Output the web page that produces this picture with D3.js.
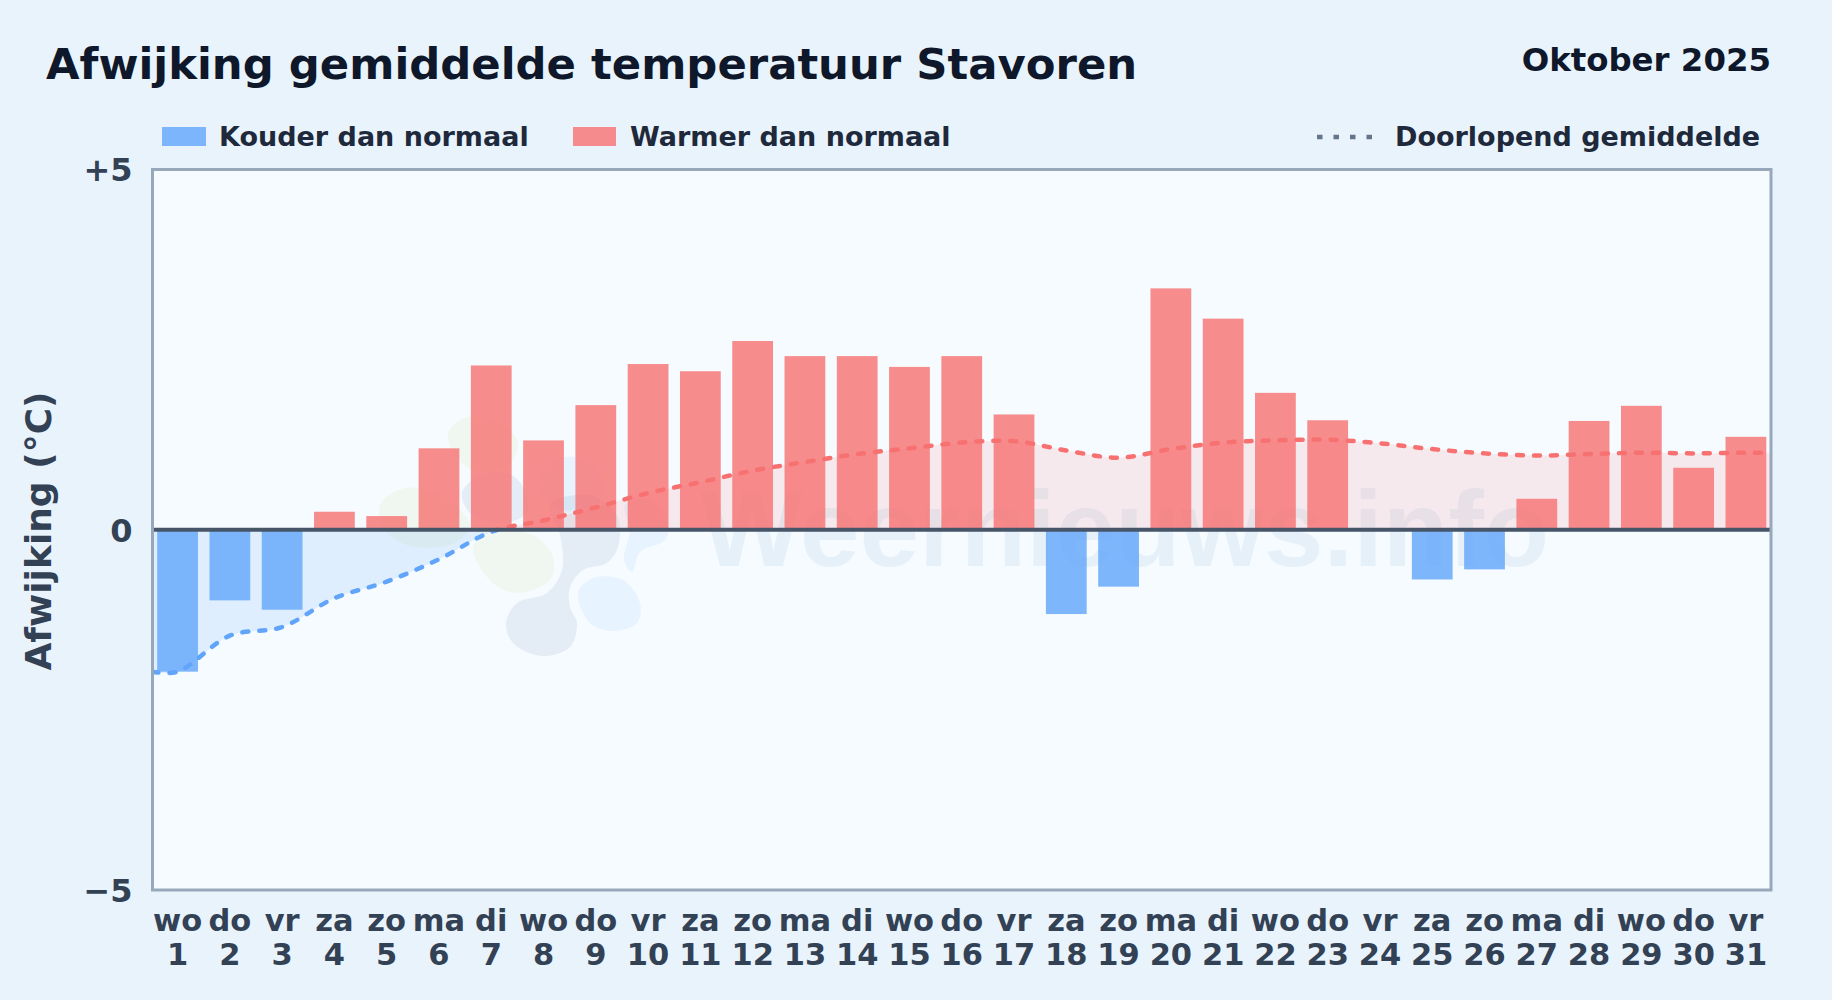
<!DOCTYPE html>
<html>
<head>
<meta charset="utf-8">
<script src="https://cdn.jsdelivr.net/npm/d3@7"></script>
<style>
  html, body { margin: 0; padding: 0; background: #e8f3fc; }
  svg { display: block; }
  text { font-family: "DejaVu Sans", sans-serif; font-weight: 700; }
</style>
</head>
<body>
<svg id="chart" width="1832" height="1000"></svg>
<script>
const weekdays = ['wo','do','vr','za','zo','ma','di','wo','do','vr','za','zo','ma','di','wo','do','vr','za','zo','ma','di','wo','do','vr','za','zo','ma','di','wo','do','vr'];
const days = d3.range(1, 32);
const deviation = [-1.97,-0.98,-1.11,0.25,0.19,1.13,2.28,1.24,1.73,2.30,2.20,2.62,2.41,2.41,2.26,2.41,1.60,-1.17,-0.79,3.35,2.93,1.90,1.52,0,-0.69,-0.55,0.43,1.51,1.72,0.86,1.29];
const runningMean = [-1.97,-1.47,-1.35,-0.95,-0.72,-0.41,-0.03,0.13,0.31,0.51,0.66,0.82,0.94,1.05,1.13,1.21,1.23,1.10,1.00,1.12,1.21,1.24,1.25,1.20,1.12,1.06,1.03,1.05,1.07,1.06,1.07];
const yTicks = [5, 0, -5];
const yTickLabels = ['+5', '0', '\u22125'];

const margin = { top: 169.5, right: 61, bottom: 110, left: 152.5 };
const width = 1832 - margin.left - margin.right;
const height = 1000 - margin.top - margin.bottom;

const BLUE = '#60a5fa', RED = '#f87171';

const svg = d3.select('#chart');
svg.append('rect').attr('width', 1832).attr('height', 1000).attr('fill', '#e8f3fc');

// Title block
svg.append('text').attr('x', 46).attr('y', 79).attr('font-size', 43.35).attr('fill', '#0f172a')
  .text('Afwijking gemiddelde temperatuur Stavoren');
svg.append('text').attr('x', 1771).attr('y', 71).attr('text-anchor', 'end').attr('font-size', 32.4).attr('fill', '#0f172a')
  .text('Oktober 2025');

// Legend
const legend = svg.append('g').attr('font-size', 27).attr('fill', '#1e293b');
legend.append('rect').attr('x', 162).attr('y', 127).attr('width', 44).attr('height', 19).attr('fill', BLUE).attr('opacity', 0.8);
legend.append('text').attr('x', 219).attr('y', 146).text('Kouder dan normaal');
legend.append('rect').attr('x', 573).attr('y', 127).attr('width', 43).attr('height', 19).attr('fill', RED).attr('opacity', 0.8);
legend.append('text').attr('x', 630).attr('y', 146).text('Warmer dan normaal');
legend.append('line').attr('x1', 1317).attr('x2', 1375).attr('y1', 137).attr('y2', 137)
  .attr('stroke', '#64748b').attr('stroke-width', 4.5).attr('stroke-dasharray', '5.5 11');
legend.append('text').attr('x', 1395).attr('y', 146).text('Doorlopend gemiddelde');

const g = svg.append('g').attr('transform', `translate(${margin.left},${margin.top})`);

const x = d3.scaleBand().domain(days).range([0, width]).paddingInner(0.22).paddingOuter(0.09);
const y = d3.scaleLinear().domain([-5, 5]).range([height, 0]);
const cx = d => x(d) + x.bandwidth() / 2;

g.append('rect').attr('width', width).attr('height', height).attr('fill', '#f6fbff');

// Watermark (logo blobs and site name, page coordinates)
const logoBlobs = [
  { fill: '#a3c93a', pts: [[448,433],[467,417],[500,423],[518,443],[507,467],[477,472],[457,457]] },
  { fill: '#a3c93a', pts: [[380,505],[405,488],[440,495],[470,525],[455,543],[410,546],[385,530]] },
  { fill: '#a3c93a', pts: [[473,547],[493,533],[533,535],[553,557],[550,580],[517,593],[493,583]] },
  { fill: '#1e4e8c', pts: [[462,493],[477,477],[507,473],[523,487],[527,513],[500,523],[470,513]] },
  { fill: '#1e4e8c', pts: [[550,505],[590,495],[617,515],[618,547],[607,563],[583,570],[570,587],[570,607],[577,623],[570,647],[542,656],[513,643],[506,623],[517,603],[547,593],[562,570],[560,535]] },
  { fill: '#3b9df0', pts: [[578,593],[593,578],[623,580],[640,603],[637,623],[613,631],[590,623]] },
  { fill: '#3b9df0', pts: [[537,477],[563,457],[590,463],[603,487],[597,505],[565,510],[545,500]] },
  { fill: '#3b9df0', pts: [[625,505],[650,500],[668,525],[665,540],[640,552],[632,572],[624,560],[630,530]] }
];
const wm = g.append('g').attr('transform', `translate(${-margin.left},${-margin.top})`);
const blobLine = d3.line().curve(d3.curveCatmullRomClosed.alpha(0.5));
logoBlobs.forEach(b => wm.append('path').attr('d', blobLine(b.pts)).attr('fill', b.fill).attr('opacity', 0.08));
wm.append('text').attr('x', 701).attr('y', 566).attr('font-size', 107)
  .style('font-family', '"Liberation Sans", sans-serif')
  .attr('fill', '#2a7fc0').attr('opacity', 0.08).text('Weernieuws.info');

// Running mean: extended flat to the plot edges
const meanPts = days.map((d, i) => [cx(d), y(runningMean[i])]);
const linePts = [[0, y(runningMean[0])], ...meanPts, [width, y(runningMean[30])]];
const curve = d3.curveCatmullRom.alpha(0.5);
const line = d3.line().curve(curve);
const area = d3.area().curve(curve).x(d => d[0]).y0(y(0)).y1(d => d[1]);

const defs = svg.append('defs');
defs.append('clipPath').attr('id', 'above').append('rect').attr('width', width).attr('height', y(0));
defs.append('clipPath').attr('id', 'below').append('rect').attr('y', y(0)).attr('width', width).attr('height', height - y(0));

g.append('path').attr('clip-path', 'url(#below)').attr('d', area(linePts)).attr('fill', BLUE).attr('opacity', 0.15);
g.append('path').attr('clip-path', 'url(#above)').attr('d', area(linePts)).attr('fill', RED).attr('opacity', 0.13);

// Bars
g.selectAll('.bar').data(days).join('rect').attr('class', 'bar')
  .attr('x', d => x(d)).attr('width', x.bandwidth())
  .attr('y', (d, i) => y(Math.max(0, deviation[i])))
  .attr('height', (d, i) => Math.abs(y(deviation[i]) - y(0)))
  .attr('fill', (d, i) => deviation[i] < 0 ? BLUE : RED)
  .attr('opacity', 0.8);

g.append('path').attr('clip-path', 'url(#below)').attr('d', line(linePts)).attr('fill', 'none')
  .attr('stroke', BLUE).attr('stroke-width', 4.5).attr('stroke-linecap', 'round').attr('stroke-dasharray', '6 11');
g.append('path').attr('clip-path', 'url(#above)').attr('d', line(linePts)).attr('fill', 'none')
  .attr('stroke', RED).attr('stroke-width', 4.5).attr('stroke-linecap', 'round').attr('stroke-dasharray', '6 11');

// Zero line and frame
g.append('line').attr('x1', 0).attr('x2', width).attr('y1', y(0)).attr('y2', y(0)).attr('stroke', '#475569').attr('stroke-width', 4);
g.append('rect').attr('width', width).attr('height', height).attr('fill', 'none').attr('stroke', '#97a8bb').attr('stroke-width', 3);

// Axes
const yAxis = g.append('g').call(d3.axisLeft(y).tickValues(yTicks).tickFormat((d, i) => yTickLabels[i]).tickSize(0).tickPadding(20));
yAxis.select('.domain').remove();
yAxis.selectAll('text').attr('font-size', 32).attr('y', 1).style('font-family', '"DejaVu Sans", sans-serif').attr('fill', '#334155');

const xAxis = g.append('g').attr('transform', `translate(0,${height})`)
  .call(d3.axisBottom(x).tickSize(0).tickFormat(''));
xAxis.select('.domain').remove();
xAxis.selectAll('.tick').each(function (d, i) {
  const t = d3.select(this);
  t.selectAll('text').remove();
  t.append('text').attr('y', 41).attr('text-anchor', 'middle').attr('font-size', 30.5).attr('fill', '#334155').text(weekdays[i]);
  t.append('text').attr('y', 75).attr('text-anchor', 'middle').attr('font-size', 30.5).attr('fill', '#334155').text(d);
});

svg.append('text').attr('transform', 'translate(51,531) rotate(-90)').attr('text-anchor', 'middle')
  .attr('font-size', 36).attr('fill', '#334155').text('Afwijking (\u00b0C)');
</script>
</body>
</html>
